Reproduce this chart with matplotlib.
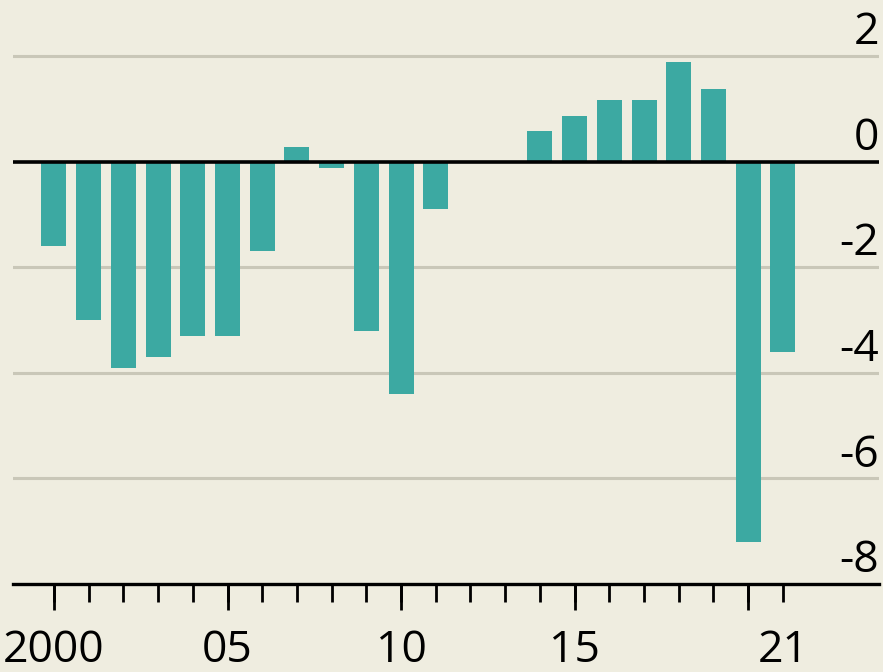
import matplotlib.pyplot as plt

# yearly values
years = list(range(2000, 2022))
values = [-1.6, -3.0, -3.9, -3.7, -3.3, -3.3, -1.7, 0.27, -0.13, -3.2, -4.4, -0.9,
          0.0, 0.0, 0.58, 0.87, 1.17, 1.17, 1.88, 1.38, -7.2, -3.6]
ytick_vals = [2, 0, -2, -4, -6, -8]
xtick_major = [2000, 2005, 2010, 2015, 2020]
xtick_labels = {2000: '2000', 2005: '05', 2010: '10', 2015: '15', 2021: '21'}

BG = '#efede0'
BAR = '#3ca9a2'
GRID = '#c9c7b8'
FONT = ['Liberation Sans Narrow', 'Open Sans', 'DejaVu Sans']
FS = 32

fig = plt.figure(figsize=(8.83, 6.72), dpi=100, facecolor=BG)
W, H = 883, 672
ax = fig.add_axes([13 / W, (H - 584) / H, (879 - 13) / W, 584 / H])
ax.set_facecolor(BG)

ax.bar(years, values, width=0.72, color=BAR, zorder=2)

ax.set_xlim(1998.82, 2023.77)
ax.set_ylim(-8, 3.06)

# gridlines, with the labels sitting on them at the right edge
for v in ytick_vals:
    if v == 0:
        ax.axhline(v, color='black', lw=2.6, zorder=3)
    elif v != -8:
        ax.axhline(v, color=GRID, lw=2.2, zorder=1)
    ax.annotate(str(v), xy=(1.0, v), xycoords=ax.get_yaxis_transform(),
                xytext=(0, 8.5), textcoords='offset points',
                ha='right', va='baseline', fontsize=FS, family=FONT,
                color='black', annotation_clip=False)

for s in ['top', 'right', 'left']:
    ax.spines[s].set_visible(False)
ax.spines['bottom'].set_linewidth(2.4)
ax.set_yticks([])

# short ticks every year, longer ones every five
ax.xaxis.remove_overlapping_locs = False
ax.set_xticks(years)
ax.set_xticklabels([''] * len(years))
ax.set_xticks(xtick_major, minor=True)
ax.tick_params(axis='x', which='major', length=13, width=2, color='black')
ax.tick_params(axis='x', which='minor', length=19, width=2, color='black')

for y, lab in xtick_labels.items():
    ax.annotate(lab, xy=(y, 0), xycoords=ax.get_xaxis_transform(),
                xytext=(0, -32), textcoords='offset points',
                ha='center', va='top', fontsize=FS, family=FONT, color='black')

fig.savefig('out.png', dpi=100, facecolor=BG)
